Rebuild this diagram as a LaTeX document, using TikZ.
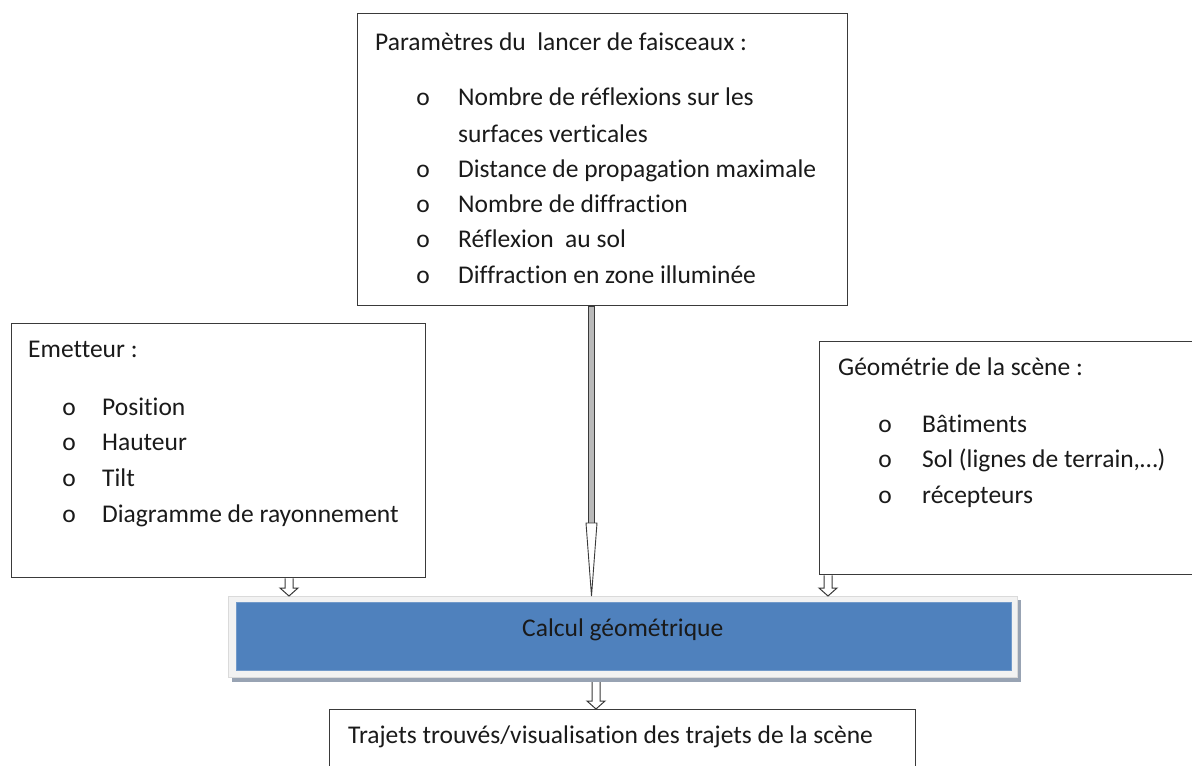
\documentclass[tikz,border=0pt]{standalone}
\usepackage{fontspec}
\setmainfont{Carlito}[Ligatures={NoCommon}]
\usetikzlibrary{calc}
\definecolor{boxline}{HTML}{3A3A3A}
\definecolor{calcblue}{HTML}{4F81BD}
\definecolor{framegray}{HTML}{F2F2F2}
\definecolor{shadowgray}{HTML}{98A3B3}
\definecolor{txt}{HTML}{1A1A1A}
\tikzset{
  box/.style={draw=boxline, line width=1.3pt, fill=white, anchor=north west, inner sep=0pt},
  txtline/.style={anchor=base west, inner sep=0pt, text=txt, font=\fontsize{25.5}{30}\selectfont},
  bullet/.style={anchor=base, inner sep=0pt, text=txt, font=\fontsize{25.5}{30}\selectfont},
  hollow/.style={draw=boxline, line width=1pt, fill=white, line join=miter},
}
\newcommand\hollowarrow[2]{%
  \draw[hollow] ($(#1)+(-4,0)$) -- ($(#2)+(-4,-8)$) -- ($(#2)+(-9,-8)$) -- (#2)
    -- ($(#2)+(9,-8)$) -- ($(#2)+(4,-8)$) -- ($(#1)+(4,0)$);}
\begin{document}
\begin{tikzpicture}[x=1pt,y=-1pt]
\useasboundingbox (0,0) rectangle (1192,766);
\fill[white] (0,0) rectangle (1192,766);

% boxes
\node[box, minimum width=490pt, minimum height=292pt] (top) at (357,13) {};
\node[box, minimum width=414pt, minimum height=254pt] (emit) at (11,323) {};
\node[box, minimum width=400pt, minimum height=233pt] (geo) at (819,341) {};
\node[box, minimum width=586pt, minimum height=80pt] (res) at (329,709) {};

% calcul box with frame and shadow
\fill[shadowgray] (232,600) rectangle (1021,682);
\node[fill=framegray, draw=framegray!90!black, line width=0.4pt, anchor=north west, inner sep=0pt,
      minimum width=789pt, minimum height=81pt] (calcframe) at (228,596) {};
\node[fill=calcblue, draw=calcblue!80!white, line width=0.6pt, anchor=north west, inner sep=0pt,
      minimum width=775pt, minimum height=68pt] (calc) at (236,602) {};
\node[txtline] (calctxt) at (522,636) {Calcul géométrique};

% top box text
\node[txtline] (t0) at (375,50) {Paramètres du\ \ lancer de faisceaux :};
\foreach \y/\t [count=\i] in {105/{Nombre de réflexions sur les},
    177/{Distance de propagation maximale},
    212/{Nombre de diffraction},
    247/{Réflexion\ \ au sol},
    283/{Diffraction en zone\ illuminée}}{
  \node[bullet] (tb\i) at (423,\y) {o};
  \node[txtline] (ti\i) at (458,\y) {\t};
}
\node[txtline] (ti1b) at (458,142) {surfaces verticales};

% emitter text
\node[txtline] (e0) at (28,357) {Emetteur :};
\foreach \y/\t [count=\i] in {415/Position, 450/Hauteur, 486/Tilt, 522/{Diagramme de rayonnement}}{
  \node[bullet] (eb\i) at (69,\y) {o};
  \node[txtline] (ei\i) at (102,\y) {\t};
}

% geometry text
\node[txtline] (g0) at (838,375) {Géométrie de la scène :};
\foreach \y/\t [count=\i] in {432/Bâtiments, 467/{Sol (lignes de terrain,…)}, 503/récepteurs}{
  \node[bullet] (gb\i) at (885,\y) {o};
  \node[txtline] (gi\i) at (922,\y) {\t};
}

% result text
\node[txtline] (r0) at (348,743) {Trajets trouvés/visualisation des trajets de la scène};

% connectors
\coordinate (a1s) at (emit.south -| 289,0);
\coordinate (a1e) at (calcframe.north -| 289,0);
\hollowarrow{a1s}{a1e}
\coordinate (a2s) at (geo.south -| 828,0);
\coordinate (a2e) at (calcframe.north -| 828,0);
\hollowarrow{a2s}{a2e}
\coordinate (a3s) at (596,682);
\coordinate (a3e) at (res.north -| 596,0);
\hollowarrow{a3s}{a3e}

% long arrow from parameters to calcul
\coordinate (ls) at (top.south -| 591,0);
\coordinate (le) at (calcframe.north -| 591.5,0);
\draw[boxline, line width=0.8pt, fill=gray!55] ($(ls)+(-3,0)$) rectangle ($(le)+(3,-73)$);
\draw[hollow, line width=0.9pt] ($(le)+(-5.5,-73)$) -- ($(le)+(5.5,-73)$) -- (le) -- cycle;
\end{tikzpicture}
\end{document}
